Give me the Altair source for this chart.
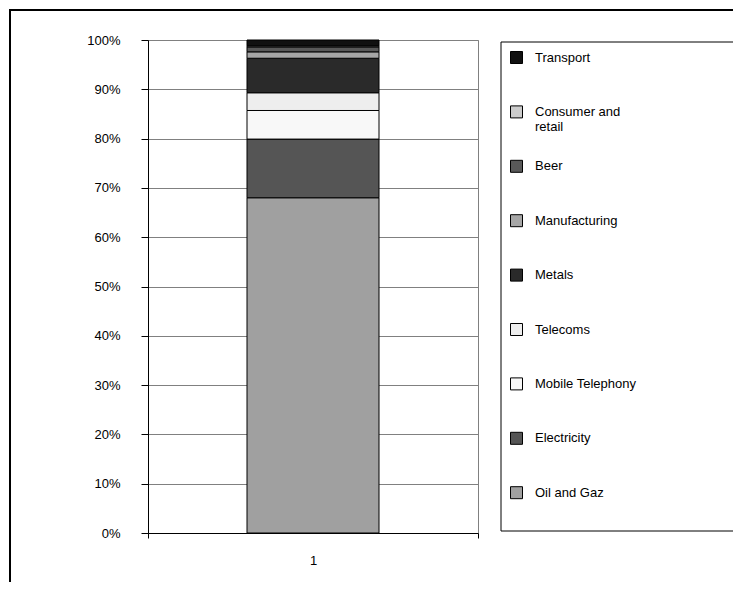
import altair as alt
import pandas as pd

categories = ["Oil and Gaz", "Electricity", "Mobile Telephony", "Telecoms", "Metals",
              "Manufacturing", "Beer", "Consumer and retail", "Transport"]
shares = [68.0, 11.9, 5.8, 3.6, 7.0, 1.3, 1.0, 0.2, 1.2]
colors = ["#a0a0a0", "#555555", "#f8f8f8", "#eeeeee", "#2a2a2a",
          "#a6a6a6", "#595959", "#cccccc", "#111111"]
bar_labels = ["1"] * len(categories)
tick_values = [0, 0.1, 0.2, 0.3, 0.4, 0.5, 0.6, 0.7, 0.8, 0.9, 1.0]

df = pd.DataFrame({
    "category": categories,
    "share": shares,
    "bar": bar_labels,
    "order": list(range(len(categories))),
})

legend_order = categories[::-1]
legend_colors = colors[::-1]

FONT = "Liberation Sans"

# decorative outer chart frame and legend box
frame = alt.Chart(alt.Data(values=[{}])).mark_rect(
    fillOpacity=0, stroke="black", strokeWidth=2
).encode(
    x=alt.value(-138), x2=alt.value(900), y=alt.value(-30), y2=alt.value(900)
)
legend_box = alt.Chart(alt.Data(values=[{}])).mark_rect(
    fill="white", stroke="black", strokeWidth=1
).encode(
    x=alt.value(353), x2=alt.value(900), y=alt.value(2), y2=alt.value(491)
)

bars = alt.Chart(df).mark_bar(
    stroke="black", strokeWidth=1, width=alt.RelativeBandSize(0.4)
).encode(
    x=alt.X("bar:N", title=None,
            scale=alt.Scale(paddingInner=0, paddingOuter=0),
            axis=alt.Axis(labelAngle=0, tickBand="extent", tickSize=5, labelPadding=16,
                          labelFontSize=13, labelFont=FONT, labelColor="black",
                          domainColor="black", tickColor="black", grid=False)),
    y=alt.Y("share:Q", stack="normalize", title=None,
            scale=alt.Scale(domain=[0, 1]),
            axis=alt.Axis(format=".0%", values=tick_values, tickSize=7, labelPadding=21,
                          labelFontSize=13, labelFont=FONT, labelColor="black",
                          domainColor="black", tickColor="black",
                          gridColor="#808080", gridWidth=1)),
    color=alt.Color("category:N",
                    scale=alt.Scale(domain=legend_order, range=legend_colors),
                    legend=alt.Legend(
                        title=None, orient="none", legendX=353, legendY=2,
                        direction="vertical", symbolType="square", symbolSize=144,
                        symbolStrokeColor="black", symbolStrokeWidth=1, symbolOpacity=1,
                        labelFont=FONT, labelFontSize=13, labelColor="black",
                        labelOffset=12, labelLimit=300,
                        labelExpr="datum.label == 'Consumer and retail' ? ['Consumer and', 'retail'] : datum.label",
                        gridAlign="all", rowPadding=23.4, padding=9)),
    order=alt.Order("order:Q", sort="ascending"),
)

chart = alt.layer(frame, legend_box, bars).properties(
    width=330, height=493,
    autosize=alt.AutoSizeParams(type="none"),
    padding={"left": 140, "top": 32, "right": 255, "bottom": 49},
    background="white",
).configure_view(stroke="#808080", strokeWidth=1)

chart.save("out.html", embed_options={"renderer": "svg", "actions": False})
